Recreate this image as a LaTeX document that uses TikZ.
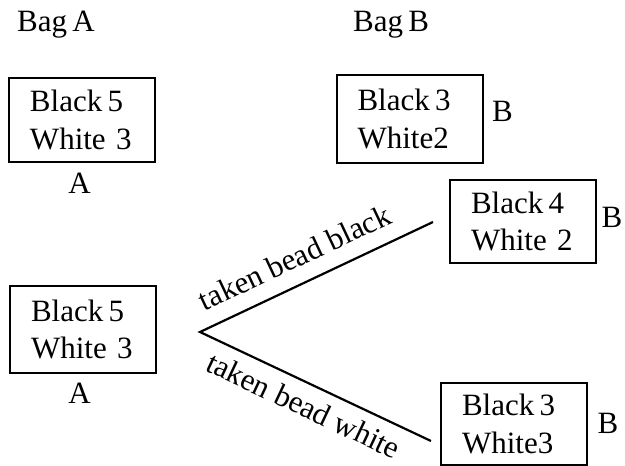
\documentclass[tikz,border=0pt]{standalone}
\usepackage{fontspec}
\newfontfamily\bagfont{Liberation Serif}
% narrow word gap used in the short labels
\newcommand\nsp{\hspace{0.17em}}
\begin{document}
\begin{tikzpicture}[x=1pt,y=-1pt,
  font=\bagfont\fontsize{31}{37.5}\selectfont,
  bag/.style={draw, line width=2pt, minimum width=146pt, minimum height=85pt,
              text width=104pt, align=left, inner xsep=21pt, inner ysep=0pt},
  tag/.style={inner sep=0pt, anchor=base},
  branch/.style={line width=2.2pt}]
\useasboundingbox (0,0) rectangle (625,466);

% headings
\node[tag, anchor=base west] (baga) at (17,31) {Bag\nsp A};
\node[tag, anchor=base west] (bagb) at (353,31) {Bag\nsp B};

% bead boxes
\node[bag, minimum height=84pt] (a1) at (82,120) {Black\nsp 5\\White 3};
\node[bag, minimum height=88pt] (b1) at (409.5,119) {Black\nsp 3\\White2};
\node[bag, minimum height=83pt] (b2) at (523,221.5) {Black\nsp 4\\White 2};
\node[bag, minimum height=87pt] (a2) at (83,329.5) {Black\nsp 5\\White 3};
\node[bag, minimum height=82pt] (b3) at (514,424) {Black\nsp 3\\White3};

% bag letters
\node[tag] (la1) at (79.5,193) {A};
\node[tag] (la2) at (79.5,403) {A};
\node[tag] (lb1) at (502.5,121) {B};
\node[tag] (lb2) at (612,227) {B};
\node[tag] (lb3) at (608,433) {B};

% the two draws
\coordinate (fork) at (200,332);
\coordinate (upend) at (433,222);
\coordinate (lowend) at (431,441);
\draw[branch] (upend) -- (fork) -- (lowend);
\path (fork) -- (upend)
  node[pos=0.455, sloped, above, inner xsep=0pt, inner ysep=16pt] (tb) {taken bead black};
\path (fork) -- (lowend)
  node[pos=0.49, sloped, below, inner xsep=0pt, inner ysep=11pt] (tw) {taken bead white};
\end{tikzpicture}
\end{document}
